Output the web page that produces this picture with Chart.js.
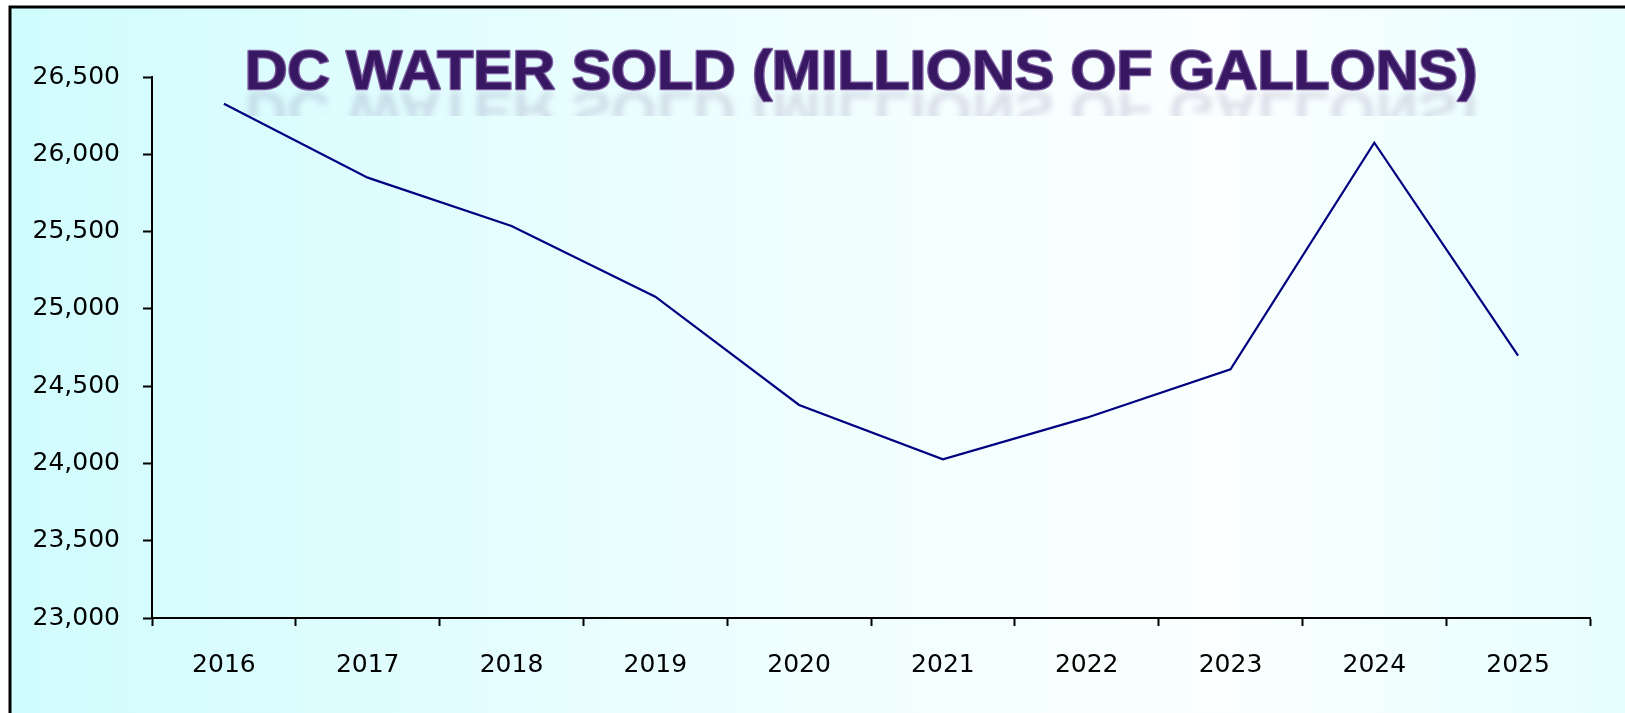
<!DOCTYPE html>
<html>
<head>
<meta charset="utf-8">
<script src="https://cdn.jsdelivr.net/npm/chart.js@4/dist/chart.umd.min.js"></script>
<style>
  html, body { margin: 0; padding: 0; background: #fff; }
  #wrap { width: 1625px; height: 713px; }
</style>
</head>
<body>
<div id="wrap"><canvas id="waterChart" width="1625" height="713"></canvas></div>
<script>
// Datos del gráfico
const years = ['2016', '2017', '2018', '2019', '2020', '2021', '2022', '2023', '2024', '2025'];
const waterSold = [26327, 25849, 25536, 25079, 24378, 24027, 24296, 24609, 26075, 24697];
const yTicks = [23000, 23500, 24000, 24500, 25000, 25500, 26000, 26500];
const chartTitle = 'DC WATER SOLD (MILLIONS OF GALLONS)';

// Fondo con degradado y marco negro
const backgroundPlugin = {
    id: 'fondo',
    beforeDraw(chart) {
        const ctx = chart.ctx;
        ctx.save();
        ctx.fillStyle = '#ffffff';
        ctx.fillRect(0, 0, chart.width, chart.height);
        const grad = ctx.createLinearGradient(10, 0, chart.width, 0);
        grad.addColorStop(0, '#d0fcfe');
        grad.addColorStop(0.45, '#eefefe');
        grad.addColorStop(0.75, '#fbffff');
        grad.addColorStop(1, '#e6fefe');
        ctx.fillStyle = grad;
        ctx.fillRect(10, 7, chart.width, chart.height);
        ctx.strokeStyle = '#000';
        ctx.lineWidth = 3;
        ctx.beginPath();
        ctx.moveTo(10, chart.height + 5);
        ctx.lineTo(10, 7);
        ctx.lineTo(chart.width + 5, 7);
        ctx.stroke();
        ctx.restore();
    }
};

// Título con contorno y reflejo difuso
const titlePlugin = {
    id: 'tituloReflejo',
    afterDraw(chart) {
        const ctx = chart.ctx;
        const cx = 861, base = 89, sx = 1.074;
        ctx.save();
        ctx.font = 'bold 55px "Liberation Sans", Arial, sans-serif';
        ctx.textAlign = 'center';
        ctx.textBaseline = 'alphabetic';

        // reflejo
        ctx.save();
        ctx.beginPath();
        ctx.rect(0, base + 1, chart.width, 26);
        ctx.clip();
        ctx.filter = 'blur(3px)';
        ctx.translate(cx, base + 3);
        ctx.scale(sx, -1);
        const fade = ctx.createLinearGradient(0, 0, 0, 24);
        fade.addColorStop(0, 'rgba(80,50,120,0.16)');
        fade.addColorStop(1, 'rgba(80,50,120,0)');
        ctx.fillStyle = fade;
        ctx.fillText(chartTitle, 0, 0);
        ctx.restore();

        // texto
        ctx.translate(cx, base);
        ctx.scale(sx, 1);
        ctx.lineJoin = 'round';
        ctx.strokeStyle = '#7d5fa0';
        ctx.lineWidth = 2.5;
        ctx.strokeText(chartTitle, 0, 0);
        ctx.fillStyle = '#381862';
        ctx.fillText(chartTitle, 0, 0);
        ctx.restore();
    }
};

const ctx = document.getElementById('waterChart').getContext('2d');
const waterChart = new Chart(ctx, {
    type: 'line',
    data: {
        labels: years,
        datasets: [{
            label: 'Water sold',
            data: waterSold,
            borderColor: '#000080',
            borderWidth: 2.2,
            pointRadius: 0,
            tension: 0,
            fill: false
        }]
    },
    options: {
        responsive: false,
        animation: false,
        layout: { padding: { left: 0, top: 77, right: 35, bottom: 0 } },
        plugins: {
            legend: { display: false },
            title: { display: false },
            tooltip: { enabled: false }
        },
        scales: {
            x: {
                offset: true,
                grid: {
                    offset: true,
                    drawOnChartArea: false,
                    drawTicks: true,
                    tickLength: 8,
                    tickColor: '#000',
                    tickWidth: 2
                },
                border: { color: '#000', width: 2 },
                ticks: {
                    color: '#000',
                    padding: 24,
                    maxRotation: 0,
                    font: { family: '"DejaVu Sans", sans-serif', size: 25 }
                },
                afterFit(scale) { scale.height = 95; }
            },
            y: {
                min: 23000,
                max: 26500,
                afterBuildTicks(scale) {
                    scale.ticks = yTicks.map(v => ({ value: v }));
                },
                grid: {
                    drawOnChartArea: false,
                    drawTicks: true,
                    tickLength: 9,
                    tickColor: '#000',
                    tickWidth: 2
                },
                border: { color: '#000', width: 2 },
                ticks: {
                    color: '#000',
                    padding: 23,
                    font: { family: '"DejaVu Sans", sans-serif', size: 25 },
                    callback: v => v.toLocaleString('en-US')
                },
                afterFit(scale) { scale.width = 152; }
            }
        }
    },
    plugins: [backgroundPlugin, titlePlugin]
});
</script>
</body>
</html>
